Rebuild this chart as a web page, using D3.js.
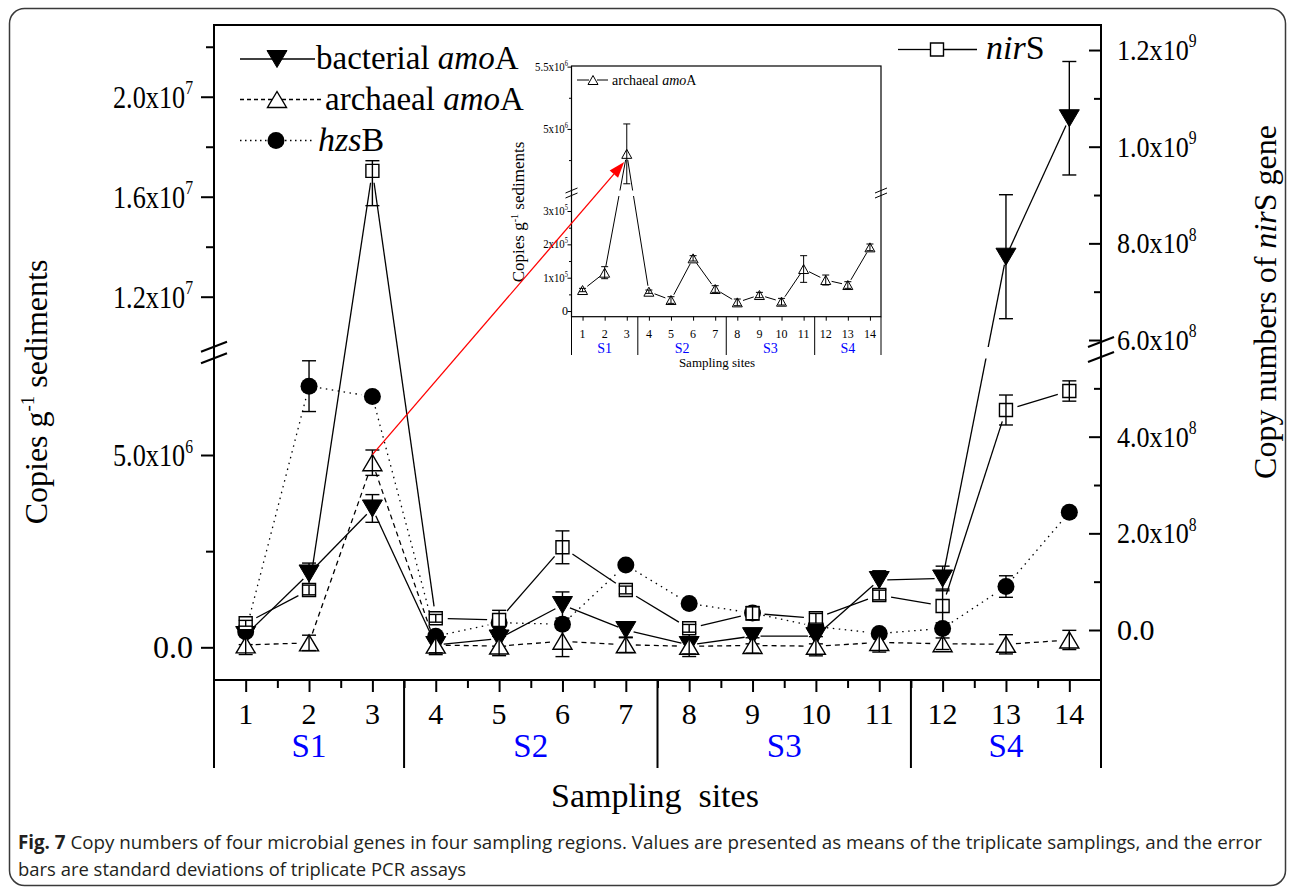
<!DOCTYPE html>
<html><head><meta charset="utf-8">
<script src="https://cdn.jsdelivr.net/npm/d3@7"></script>
<style>html,body{margin:0;padding:0;background:#fff;}svg{display:block;}</style>
</head><body>
<svg id="chart" width="1290" height="887"></svg>
<script>
// ---------------- data ----------------
const sites = [1,2,3,4,5,6,7,8,9,10,11,12,13,14];
const siteLabels = ["1","2","3","4","5","6","7","8","9","10","11","12","13","14"];
const regionNames = ["S1","S2","S3","S4"];
const regionFirstSite = [1,4,8,12];
const regionLastSite = [3,7,11,14];

const bacterialAmoA = [0.32e6,1.92e6,3.61e6,0.06e6,0.23e6,1.10e6,0.45e6,0.06e6,0.29e6,0.29e6,1.75e6,1.79e6,1.36e7,1.914e7];
const bacterialErr  = [0.25e6,0.27e6,0.36e6,0.25e6,0.2e6,0.34e6,0.2e6,0.3e6,0.2e6,0.2e6,0.24e6,0.32e6,2.48e6,2.27e6];
const archaealAmoA  = [6.3e4,1.15e5,4.8e6,5.8e4,3.3e4,1.58e5,6.6e4,2.6e4,4.8e4,2.8e4,1.26e5,9.3e4,7.8e4,1.91e5];
const archaealErrMain  = [0.25e6,0.2e6,0.33e6,0.2e6,0.25e6,0.4e6,0.2e6,0.2e6,0.2e6,0.25e6,0.25e6,0.15e6,0.25e6,0.25e6];
const archaealErrInset = [5e3,1.8e4,2.4e5,5e3,1e4,8e3,1e4,1e4,8e3,1e4,4e4,1.5e4,1e4,1e4];
const hzsB    = [0.406e6,6.79e6,6.52e6,0.29e6,0.64e6,0.6e6,2.14e6,1.14e6,0.89e6,0.54e6,0.36e6,0.49e6,1.58e6,3.51e6];
const hzsBErr = [0.05e6,0.66e6,0.05e6,0.05e6,0.05e6,0.05e6,0.05e6,0.05e6,0.05e6,0.05e6,0.05e6,0.05e6,0.28e6,0.05e6];
const nirS        = [1.39e7,8.28e7,9.50e8,2.42e7,2.07e7,1.711e8,8.28e7,3.5e6,3.46e7,2.42e7,7.24e7,4.97e7,4.552e8,4.945e8];
const nirSErrUp   = [0.6e7,1.0e7,2.1e7,0.8e7,2.0e7,3.4e7,0.8e7,0.8e7,1.4e7,1.0e7,1.0e7,3.5e7,3.1e7,2.1e7];
const nirSErrDown = [0.6e7,1.0e7,7.2e7,0.8e7,2.0e7,3.4e7,0.8e7,0.8e7,1.4e7,1.0e7,1.0e7,3.5e7,3.1e7,2.1e7];

const leftMajorTicks = [0, 5e6, 1.2e7, 1.6e7, 2.0e7];
const leftMinorTicks = [2.5e6, 1.4e7, 1.8e7, 2.2e7];
const rightMajorTicks = [0, 2e8, 4e8, 6e8, 8e8, 1e9, 1.2e9];
const rightMinorTicks = [1e8, 3e8, 5e8, 7e8, 9e8, 1.1e9];
const insetMajorTicks = [0, 1e5, 2e5, 3e5, 5e6, 5.5e6];
const insetMinorTicks = [5e4, 1.5e5, 2.5e5, 4.75e6, 5.25e6];

const captionBold = "Fig. 7";
const captionLine1 = " Copy numbers of four microbial genes in four sampling regions. Values are presented as means of the triplicate samplings, and the error";
const captionLine2 = "bars are standard deviations of triplicate PCR assays";

// ---------------- setup ----------------
const serif = "'Liberation Serif','Times New Roman',serif";
const svg = d3.select("#chart");
const P = {l:214, r:1101, t:25, b:680};

svg.append("rect").attr("x",9.5).attr("y",8.5).attr("width",1276).attr("height",877)
  .attr("rx",15).attr("fill","none").attr("stroke","#3a3a3a").attr("stroke-width",1.5);

const x  = d3.scaleLinear().domain([0.5,14.5]).range([P.l,P.r]);
const yL = d3.scaleLinear().domain([-0.85e6,7.5e6,1.0e7,2.287e7]).range([680,358.85,346.7,25]);
const yR = d3.scaleLinear().domain([-1.0345e8,1.2518e9]).range([680,25]);

const defs = svg.append("defs");
const cp = defs.append("clipPath").attr("id","brkMain");
cp.append("rect").attr("x",0).attr("y",0).attr("width",1290).attr("height",347);
cp.append("rect").attr("x",0).attr("y",358.5).attr("width",1290).attr("height",600);
const cpi = defs.append("clipPath").attr("id","brkInset");
cpi.append("rect").attr("x",0).attr("y",0).attr("width",1290).attr("height",190.5);
cpi.append("rect").attr("x",0).attr("y",196).attr("width",1290).attr("height",700);

function sciParts(v, fixed){
  if (v===0) return [fixed? "0.0":"0", ""];
  const e = Math.floor(Math.log10(v)+1e-9);
  const m = v/Math.pow(10,e);
  return [(fixed? m.toFixed(1) : String(+m.toFixed(1)))+"x10", String(e)];
}
function sciText(g, xp, yp, parts, size, anchor, supRatio, sx){
  const s = parts[1] ? (sx||1) : 1;
  const t = g.append("g").attr("transform",`translate(${xp},${yp}) scale(${s},1)`)
    .append("text").attr("x",0).attr("y",0).style("font-family",serif)
    .attr("font-size",size).attr("text-anchor",anchor).attr("fill","#000");
  t.append("tspan").text(parts[0]);
  if (parts[1]) t.append("tspan").attr("font-size",size*(supRatio||0.6)).attr("dy",-size*0.42).text(parts[1]);
  return t;
}
function styleAxis(g, w){
  g.select(".domain").remove();
  g.selectAll(".tick line").attr("stroke","#000").attr("stroke-width",w);
}

// ---------------- main axes ----------------
const ax = svg.append("g");
ax.append("g").attr("transform",`translate(${P.l},0)`)
  .call(d3.axisLeft(yL).tickValues(leftMajorTicks).tickSize(13).tickFormat("")).call(g=>styleAxis(g,2));
ax.append("g").attr("transform",`translate(${P.l},0)`)
  .call(d3.axisLeft(yL).tickValues(leftMinorTicks).tickSize(8).tickFormat("")).call(g=>styleAxis(g,2));
ax.append("g").attr("transform",`translate(${P.r},0)`)
  .call(d3.axisLeft(yR).tickValues(rightMajorTicks).tickSize(12).tickFormat("")).call(g=>styleAxis(g,2));
ax.append("g").attr("transform",`translate(${P.r},0)`)
  .call(d3.axisLeft(yR).tickValues(rightMinorTicks).tickSize(7).tickFormat("")).call(g=>styleAxis(g,2));
ax.append("g").attr("transform",`translate(0,${P.b})`)
  .call(d3.axisBottom(x).tickValues(sites).tickSize(12).tickFormat("")).call(g=>styleAxis(g,2));
ax.append("g").attr("transform",`translate(0,${P.b})`)
  .call(d3.axisBottom(x).tickValues(sites.slice(0,13).map(s=>s+0.5)).tickSize(8).tickFormat("")).call(g=>styleAxis(g,2));

// frame
ax.append("rect").attr("x",P.l).attr("y",P.t).attr("width",P.r-P.l).attr("height",P.b-P.t)
  .attr("fill","none").attr("stroke","#000").attr("stroke-width",2);

// tick labels
leftMajorTicks.forEach(v=>sciText(ax,193,yL(v)+11,sciParts(v,true),32,"end",0.6,0.82));
rightMajorTicks.forEach(v=>sciText(ax,1117,yR(v)+10,sciParts(v,true),30,"start",0.6,0.87));

// break marks
function breakMark(g, cx, cy, hw, hh, w){
  g.append("line").attr("x1",cx-hw).attr("y1",cy+hh).attr("x2",cx+hw).attr("y2",cy-hh)
    .attr("stroke","#000").attr("stroke-width",w);
}
[346.7,358.3].forEach(yy=>breakMark(ax,P.l,yy,13,5,2));
[342,357].forEach(yy=>breakMark(ax,P.r,yy,13,5,2));

// x labels, separators, regions
siteLabels.forEach((s,i)=>ax.append("text").attr("x",x(sites[i])).attr("y",724)
  .style("font-family",serif).attr("font-size",30).attr("text-anchor","middle").text(s));
const sepPos = [0.5].concat(regionLastSite.map(v=>v+0.5));
sepPos.forEach(v=>ax.append("line").attr("x1",x(v)).attr("x2",x(v)).attr("y1",P.b).attr("y2",768)
  .attr("stroke","#000").attr("stroke-width",2));
regionNames.forEach((r,i)=>ax.append("text")
  .attr("x",(x(regionFirstSite[i]-0.5)+x(regionLastSite[i]+0.5))/2).attr("y",757)
  .style("font-family",serif).attr("font-size",33).attr("text-anchor","middle").attr("fill","#0000ff").text(r));
ax.append("text").attr("x",655).attr("y",807).style("font-family",serif).attr("font-size",34)
  .attr("text-anchor","middle").style("white-space","pre").text("Sampling  sites");

// axis titles
const lt = ax.append("text").attr("transform","translate(47,392) rotate(-90)").style("font-family",serif)
  .attr("font-size",32).attr("text-anchor","middle");
lt.append("tspan").text("Copies g");
lt.append("tspan").attr("font-size",19).attr("dy",-13).text("-1");
lt.append("tspan").attr("dy",13).text(" sediments");
const rt = ax.append("text").attr("transform","translate(1276,302) rotate(-90)").style("font-family",serif)
  .attr("font-size",32).attr("text-anchor","middle");
rt.append("tspan").text("Copy numbers of ");
rt.append("tspan").style("font-style","italic").text("nir");
rt.append("tspan").text("S gene");

// ---------------- series drawing ----------------
function gapSegments(pts, g){
  const out=[];
  for (let i=0;i<pts.length-1;i++){
    const [x1,y1]=pts[i],[x2,y2]=pts[i+1];
    const dx=x2-x1, dy=y2-y1, L=Math.hypot(dx,dy);
    if (L<=2*g) continue;
    const ux=dx/L, uy=dy/L;
    out.push([x1+ux*g,y1+uy*g,x2-ux*g,y2-uy*g]);
  }
  return out;
}
const shapes = {
  down:(w,h)=>`M${-w/2},${-h/2}L${w/2},${-h/2}L0,${h/2}Z`,
  up:(w,h)=>`M0,${-h/2}L${w/2},${h/2}L${-w/2},${h/2}Z`,
  square:(w)=>`M${-w/2},${-w/2}h${w}v${w}h${-w}Z`,
  circle:(w)=>d3.symbol(d3.symbolCircle, Math.PI*w*w/4)()
};
function drawSeries(g, o){
  const pts = o.vals.map((v,i)=>[o.xs(sites[i]), o.ys(v)]);
  const lg = g.append("g");
  if (o.clip) lg.attr("clip-path",`url(#${o.clip})`);
  lg.selectAll("line").data(gapSegments(pts,o.gap)).join("line")
    .attr("x1",d=>d[0]).attr("y1",d=>d[1]).attr("x2",d=>d[2]).attr("y2",d=>d[3])
    .attr("stroke","#000").attr("stroke-width",o.lw).attr("stroke-dasharray",o.dash||null);
  const mg = g.append("g");
  pts.forEach(p=>{
    mg.append("path").attr("transform",`translate(${p[0]},${p[1]})`).attr("d",o.shape)
      .attr("fill",o.fill).attr("stroke","#000").attr("stroke-width",o.mlw);
  });
  const eg = g.append("g").attr("stroke","#000").attr("stroke-width",o.elw);
  o.vals.forEach((v,i)=>{
    const up=o.errUp[i], dn=o.errDown[i];
    if (!up && !dn) return;
    const xx=pts[i][0], y1=o.ys(v+up), y2=o.ys(v-dn);
    eg.append("line").attr("x1",xx).attr("x2",xx).attr("y1",y1).attr("y2",y2);
    eg.append("line").attr("x1",xx-o.cap).attr("x2",xx+o.cap).attr("y1",y1).attr("y2",y1);
    eg.append("line").attr("x1",xx-o.cap).attr("x2",xx+o.cap).attr("y1",y2).attr("y2",y2);
  });
}
const sg = svg.append("g");
drawSeries(sg,{vals:hzsB,errUp:hzsBErr,errDown:hzsBErr,xs:x,ys:yL,gap:11,lw:1.3,dash:"1.5,4.5",
  shape:shapes.circle(17),fill:"#000",mlw:0,elw:1.4,cap:7,clip:"brkMain"});
drawSeries(sg,{vals:bacterialAmoA,errUp:bacterialErr,errDown:bacterialErr,xs:x,ys:yL,gap:8,lw:1.3,
  shape:shapes.down(20,17),fill:"#000",mlw:1,elw:1.4,cap:7,clip:"brkMain"});
drawSeries(sg,{vals:archaealAmoA,errUp:archaealErrMain,errDown:archaealErrMain,xs:x,ys:yL,gap:10,lw:1.3,dash:"5,4",
  shape:shapes.up(19,16),fill:"#fff",mlw:1.4,elw:1.4,cap:7,clip:"brkMain"});
drawSeries(sg,{vals:nirS,errUp:nirSErrUp,errDown:nirSErrDown,xs:x,ys:yR,gap:12,lw:1.3,
  shape:shapes.square(13),fill:"#fff",mlw:1.4,elw:1.4,cap:7});

// ---------------- legends ----------------
function legendRow(g, x1, x2, mx, y, dash, shape, fill, mlw, textX, parts, size){
  g.append("line").attr("x1",x1).attr("x2",x2).attr("y1",y).attr("y2",y).attr("stroke","#000")
    .attr("stroke-width",1.3).attr("stroke-dasharray",dash||null);
  g.append("path").attr("transform",`translate(${mx},${y})`).attr("d",shape).attr("fill",fill)
    .attr("stroke","#000").attr("stroke-width",mlw);
  const t = g.append("text").attr("x",textX).attr("y",y+10).style("font-family",serif).attr("font-size",size);
  parts.forEach(p=>t.append("tspan").style("font-style",p[1]?"italic":null).text(p[0]));
}
const lgd = svg.append("g");
legendRow(lgd,240,315,277,59,null,shapes.down(20,17),"#000",1,316,[["bacterial ",0],["amo",1],["A",0]],33);
legendRow(lgd,240,321,277,99.5,"4,3",shapes.up(19,16),"#fff",1.4,325,[["archaeal ",0],["amo",1],["A",0]],33);
legendRow(lgd,240,312,276,140.5,"1.5,3.5",shapes.circle(17),"#000",0,318,[["hzs",1],["B",0]],34);
lgd.append("line").attr("x1",898).attr("x2",930).attr("y1",49.5).attr("y2",49.5).attr("stroke","#000").attr("stroke-width",1.3);
lgd.append("line").attr("x1",944).attr("x2",977).attr("y1",49.5).attr("y2",49.5).attr("stroke","#000").attr("stroke-width",1.3);
lgd.append("path").attr("transform","translate(937,49.5)").attr("d",shapes.square(13)).attr("fill","#fff").attr("stroke","#000").attr("stroke-width",1.4);
const nt = lgd.append("text").attr("x",986).attr("y",59).style("font-family",serif).attr("font-size",34);
nt.append("tspan").style("font-style","italic").text("nir");
nt.append("tspan").text("S");

// ---------------- inset ----------------
const I = {l:571.5, r:881, t:66, b:316.7};
const xi = d3.scaleLinear().domain([0.5,14.5]).range([I.l,I.r]);
const yi = d3.scaleLinear().domain([-1.7e4,3.45e5,4.51e6,5.505e6]).range([I.b,196,190,I.t]);
const ig = svg.append("g");
ig.append("rect").attr("x",I.l).attr("y",I.t).attr("width",I.r-I.l).attr("height",I.b-I.t)
  .attr("fill","#fff").attr("stroke","#000").attr("stroke-width",1.2);
ig.append("g").attr("transform",`translate(${I.l},0)`)
  .call(d3.axisLeft(yi).tickValues(insetMajorTicks).tickSize(4).tickFormat("")).call(g=>styleAxis(g,1));
ig.append("g").attr("transform",`translate(${I.l},0)`)
  .call(d3.axisLeft(yi).tickValues(insetMinorTicks).tickSize(2.5).tickFormat("")).call(g=>styleAxis(g,1));
ig.append("g").attr("transform",`translate(0,${I.b})`)
  .call(d3.axisBottom(xi).tickValues(sites).tickSize(4).tickFormat("")).call(g=>styleAxis(g,1));
insetMajorTicks.forEach(v=>sciText(ig,568,yi(v)+4,sciParts(v,false),12,"end",0.6,0.9));
[190.5,195.5].forEach(yy=>{breakMark(ig,I.l,yy,6,2.5,1);breakMark(ig,I.r,yy,6,2.5,1);});
siteLabels.forEach((s,i)=>ig.append("text").attr("x",xi(sites[i])).attr("y",338)
  .style("font-family",serif).attr("font-size",12).attr("text-anchor","middle").text(s));
sepPos.forEach(v=>ig.append("line").attr("x1",xi(v)).attr("x2",xi(v)).attr("y1",I.b).attr("y2",355)
  .attr("stroke","#000").attr("stroke-width",1));
regionNames.forEach((r,i)=>ig.append("text")
  .attr("x",(xi(regionFirstSite[i]-0.5)+xi(regionLastSite[i]+0.5))/2).attr("y",353)
  .style("font-family",serif).attr("font-size",14).attr("text-anchor","middle").attr("fill","#0000ff").text(r));
ig.append("text").attr("x",717).attr("y",367).style("font-family",serif).attr("font-size",13)
  .attr("text-anchor","middle").text("Sampling sites");
const it = ig.append("text").attr("transform","translate(524,212) rotate(-90)").style("font-family",serif)
  .attr("font-size",17).attr("text-anchor","middle");
it.append("tspan").text("Copies g");
it.append("tspan").attr("font-size",10).attr("dy",-6).text("-1");
it.append("tspan").attr("dy",6).text(" sediments");
drawSeries(ig,{vals:archaealAmoA,errUp:archaealErrInset,errDown:archaealErrInset,xs:xi,ys:yi,gap:6,lw:1,
  shape:shapes.up(10,9),fill:"#fff",mlw:1,elw:1,cap:3.5,clip:"brkInset"});
ig.append("line").attr("x1",577).attr("x2",589).attr("y1",80).attr("y2",80).attr("stroke","#000").attr("stroke-width",1);
ig.append("line").attr("x1",597).attr("x2",608).attr("y1",80).attr("y2",80).attr("stroke","#000").attr("stroke-width",1);
ig.append("path").attr("transform","translate(593,80)").attr("d",shapes.up(10,9)).attr("fill","#fff").attr("stroke","#000").attr("stroke-width",1);
const ilt = ig.append("text").attr("x",612).attr("y",85).style("font-family",serif).attr("font-size",14);
ilt.append("tspan").text("archaeal ");
ilt.append("tspan").style("font-style","italic").text("amo");
ilt.append("tspan").text("A");

// ---------------- red arrow ----------------
(function(){
  const x1 = x(3), y1 = yL(archaealAmoA[2]) - 8;
  const tx = xi(3), ty = yi(archaealAmoA[2]);
  const dx = tx-x1, dy = ty-y1, L = Math.hypot(dx,dy), ux=dx/L, uy=dy/L;
  const ex = tx-ux*4, ey = ty-uy*4+5;
  const hl=16, hw=5.5;
  const bx = ex-ux*hl, by = ey-uy*hl;
  svg.append("line").attr("x1",x1).attr("y1",y1).attr("x2",bx).attr("y2",by).attr("stroke","#ff0000").attr("stroke-width",1.3);
  svg.append("path").attr("d",`M${ex},${ey}L${bx-uy*hw},${by+ux*hw}L${bx+uy*hw},${by-ux*hw}Z`).attr("fill","#ff0000");
})();

// ---------------- caption ----------------
const cap1 = svg.append("text").attr("x",18).attr("y",849).style("font-family","'Open Sans',sans-serif")
  .attr("font-size",19).attr("fill","#231f20").attr("textLength",1244).attr("lengthAdjust","spacingAndGlyphs");
cap1.append("tspan").attr("font-weight","bold").text(captionBold);
cap1.append("tspan").text(captionLine1);
svg.append("text").attr("x",18).attr("y",876).style("font-family","'Open Sans',sans-serif")
  .attr("font-size",19).attr("fill","#231f20").attr("textLength",448).attr("lengthAdjust","spacingAndGlyphs")
  .text(captionLine2);
</script>
</body></html>
